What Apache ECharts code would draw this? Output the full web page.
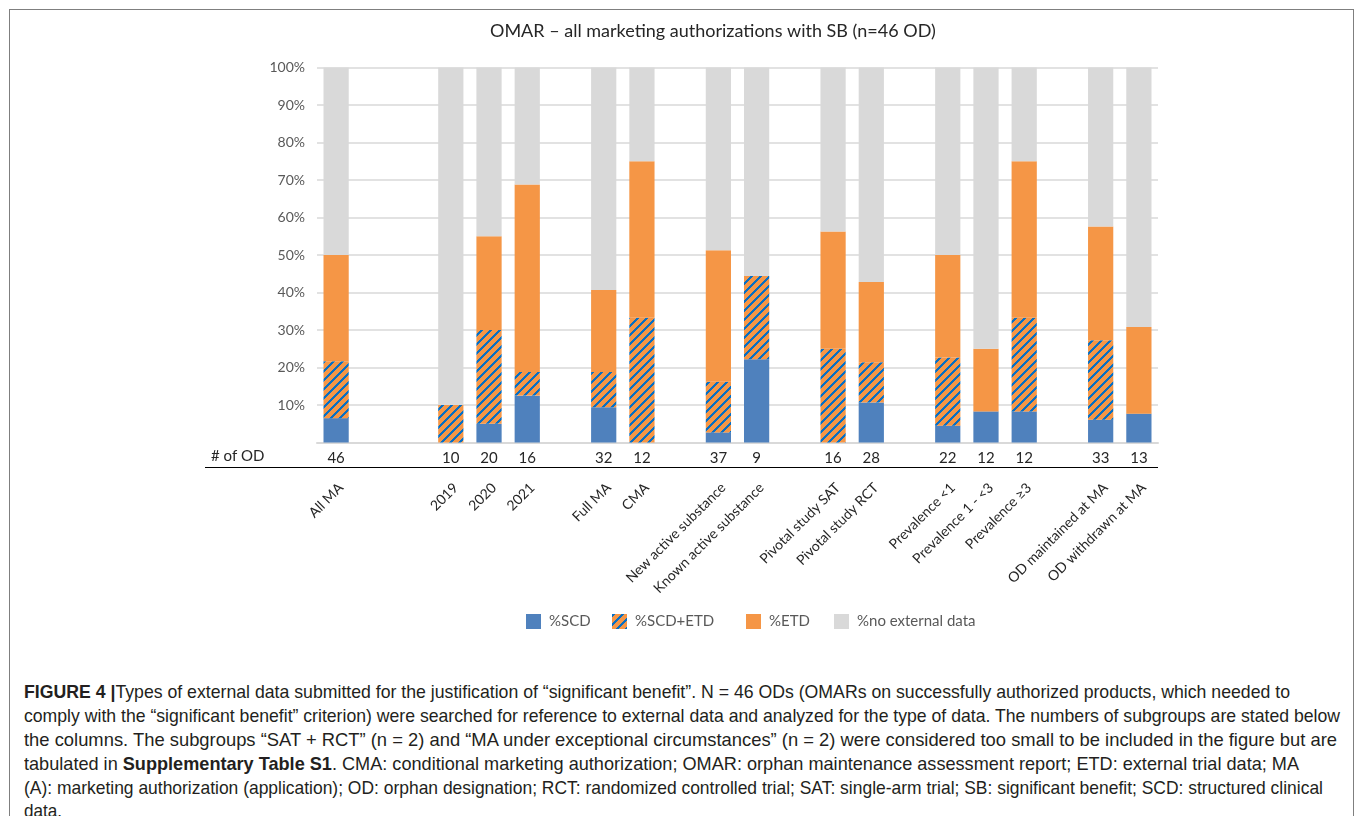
<!DOCTYPE html>
<html>
<head>
<meta charset="utf-8">
<script src="https://cdn.jsdelivr.net/npm/echarts@6/dist/echarts.min.js"></script>
<style>
  html, body { margin: 0; padding: 0; background: #fff; }
  #page { position: relative; width: 1355px; height: 816px; overflow: hidden; }
  #frame { position: absolute; left: 9px; top: 9px; width: 1345px; height: 900px;
           border: 1.5px solid #7f7f7f; box-sizing: border-box; }
  #chart { position: absolute; left: 0; top: 0; width: 1355px; height: 660px; }
  #caption { position: absolute; left: 24px; top: 0; font-family: "Liberation Sans Narrow", "Liberation Sans", Arial, sans-serif;
             font-size: 18.5px; color: #231f20; }
  .ln { position: absolute; left: 0; white-space: nowrap; transform-origin: 0 50%; line-height: 24px; height: 24px; }
  .ln b { font-weight: bold; }
</style>
</head>
<body>
<div id="page">
  <div id="frame"></div>
  <div id="chart"></div>
  <div id="caption">
    <div class="ln" data-w="1266" style="top:680px"><b>FIGURE 4 |</b>Types of external data submitted for the justification of “significant benefit”. N = 46 ODs (OMARs on successfully authorized products, which needed to</div>
    <div class="ln" data-w="1316" style="top:704px">comply with the “significant benefit” criterion) were searched for reference to external data and analyzed for the type of data. The numbers of subgroups are stated below</div>
    <div class="ln" data-w="1313" style="top:728px">the columns. The subgroups “SAT + RCT” (n = 2) and “MA under exceptional circumstances” (n = 2) were considered too small to be included in the figure but are</div>
    <div class="ln" data-w="1275" style="top:752px">tabulated in <b>Supplementary Table S1</b>. CMA: conditional marketing authorization; OMAR: orphan maintenance assessment report; ETD: external trial data; MA</div>
    <div class="ln" data-w="1299" style="top:776px">(A): marketing authorization (application); OD: orphan designation; RCT: randomized controlled trial; SAT: single-arm trial; SB: significant benefit; SCD: structured clinical</div>
    <div class="ln" data-w="38" style="top:799px">data.</div>
  </div>
</div>
<script>
// Subgroups (empty entries are spacer columns between groups)
const categories = [
  'All MA', '', '',
  '2019', '2020', '2021', '',
  'Full MA', 'CMA', '',
  'New active substance', 'Known active substance', '',
  'Pivotal study SAT', 'Pivotal study RCT', '',
  'Prevalence <1', 'Prevalence 1 - <3', 'Prevalence ≥3', '',
  'OD maintained at MA', 'OD withdrawn at MA'
];
// Number of orphan designations per subgroup
const odCounts = [46, null, null, 10, 20, 16, null, 32, 12, null, 37, 9, null, 16, 28, null, 22, 12, 12, null, 33, 13];

// Share of subgroup (%) by type of external data
const pctSCD    = [6.5, null, null, 0, 5, 12.5, null, 9.4, 0, null, 2.7, 22.2, null, 0, 10.7, null, 4.5, 8.3, 8.3, null, 6.1, 7.7];
const pctSCDETD = [15.2, null, null, 10, 25, 6.3, null, 9.4, 33.3, null, 13.5, 22.2, null, 25, 10.7, null, 18.2, 0, 25, null, 21.2, 0];
const pctETD    = [28.3, null, null, 0, 25, 50, null, 21.9, 41.7, null, 35.1, 0, null, 31.3, 21.4, null, 27.3, 16.7, 41.7, null, 30.3, 23.1];
const pctNone   = [50, null, null, 90, 45, 31.2, null, 59.3, 25, null, 48.7, 55.6, null, 43.7, 57.2, null, 50, 75, 25, null, 42.4, 69.2];

const seriesNames = ['%SCD', '%SCD+ETD', '%ETD', '%no external data'];
const yMin = 0, yMax = 100, yStep = 10;

const BLUE = '#4F81BD', ORANGE = '#F59646', GREY = '#D9D9D9', STRIPE = '#0A6FC2';
const FONT = 'Lato, "Open Sans", sans-serif';

// orange fill with blue upward diagonal stripes
function hatchTile() {
  const n = 9, c = document.createElement('canvas');
  c.width = n; c.height = n;
  const g = c.getContext('2d');
  g.fillStyle = ORANGE; g.fillRect(0, 0, n, n);
  g.fillStyle = STRIPE;
  for (let y = 0; y < n; y++)
    for (let x = 0; x < n; x++)
      if ((x + y) % n < 3) g.fillRect(x, y, 1, 1);
  return c;
}
const HATCH = { image: hatchTile(), repeat: 'repeat' };

function bar(name, data, color) {
  return {
    name, type: 'bar', stack: 'share', data, barWidth: '66%',
    itemStyle: { color }, emphasis: { disabled: true }
  };
}

const GRID = { left: 317, top: 67.5, width: 841, height: 375 };
const axisY = GRID.top + GRID.height;

function legendAt(name, x) {
  return {
    data: [name], left: x, top: 614, padding: 0, itemWidth: 15, itemHeight: 15,
    icon: 'rect', selectedMode: false,
    textStyle: { color: '#595959', fontSize: 15, fontFamily: FONT, padding: [0, 0, 0, 3] }
  };
}

const chart = echarts.init(document.getElementById('chart'), null, { renderer: 'canvas' });
chart.setOption({
  animation: false,
  title: {
    text: 'OMAR – all marketing authorizations with SB (n=46 OD)',
    left: 490, top: 22, padding: 0,
    textStyle: { color: '#262626', fontSize: 18, fontWeight: 'normal', fontFamily: FONT }
  },
  legend: [
    legendAt(seriesNames[0], 526),
    legendAt(seriesNames[1], 612),
    legendAt(seriesNames[2], 746),
    legendAt(seriesNames[3], 834)
  ],
  grid: GRID,
  xAxis: [
    {
      type: 'category', data: categories, position: 'bottom',
      axisLine: { lineStyle: { color: '#D9D9D9', width: 2 } },
      axisTick: { show: false },
      axisLabel: {
        interval: 0, margin: 8, color: '#262626', fontSize: 15, fontFamily: FONT,
        formatter: (v, i) => odCounts[i] == null ? '' : String(odCounts[i])
      }
    },
    {
      type: 'category', data: categories, position: 'bottom', offset: 25,
      axisLine: { show: false }, axisTick: { show: false },
      axisLabel: { interval: 0, rotate: 45, margin: 13, align: 'right', verticalAlign: 'top',
                   color: '#262626', fontSize: 14, fontFamily: FONT }
    }
  ],
  yAxis: {
    type: 'value', min: yMin, max: yMax, interval: yStep,
    axisLine: { show: false }, axisTick: { show: false },
    axisLabel: { color: '#595959', fontSize: 14, fontFamily: FONT, margin: 12,
                 formatter: v => v === 0 ? '' : v + '%' },
    splitLine: { lineStyle: { color: '#D9D9D9', width: 1.5 } }
  },
  graphic: [
    { type: 'text', left: 211, top: axisY + 6,
      style: { text: '# of OD', fill: '#262626', font: '15px ' + FONT } },
    { type: 'line', shape: { x1: 205, y1: axisY + 25, x2: GRID.left + GRID.width, y2: axisY + 25 },
      style: { stroke: '#000', lineWidth: 1.2 } }
  ],
  series: [
    bar(seriesNames[0], pctSCD, BLUE),
    bar(seriesNames[1], pctSCDETD, HATCH),
    bar(seriesNames[2], pctETD, ORANGE),
    bar(seriesNames[3], pctNone, GREY)
  ]
});

// stretch each caption line to its column width
document.querySelectorAll('#caption .ln[data-w]').forEach(el => {
  const w = el.getBoundingClientRect().width;
  const target = +el.dataset.w;
  el.style.transform = 'scaleX(' + (target / w).toFixed(4) + ')';
});
</script>
</body>
</html>
